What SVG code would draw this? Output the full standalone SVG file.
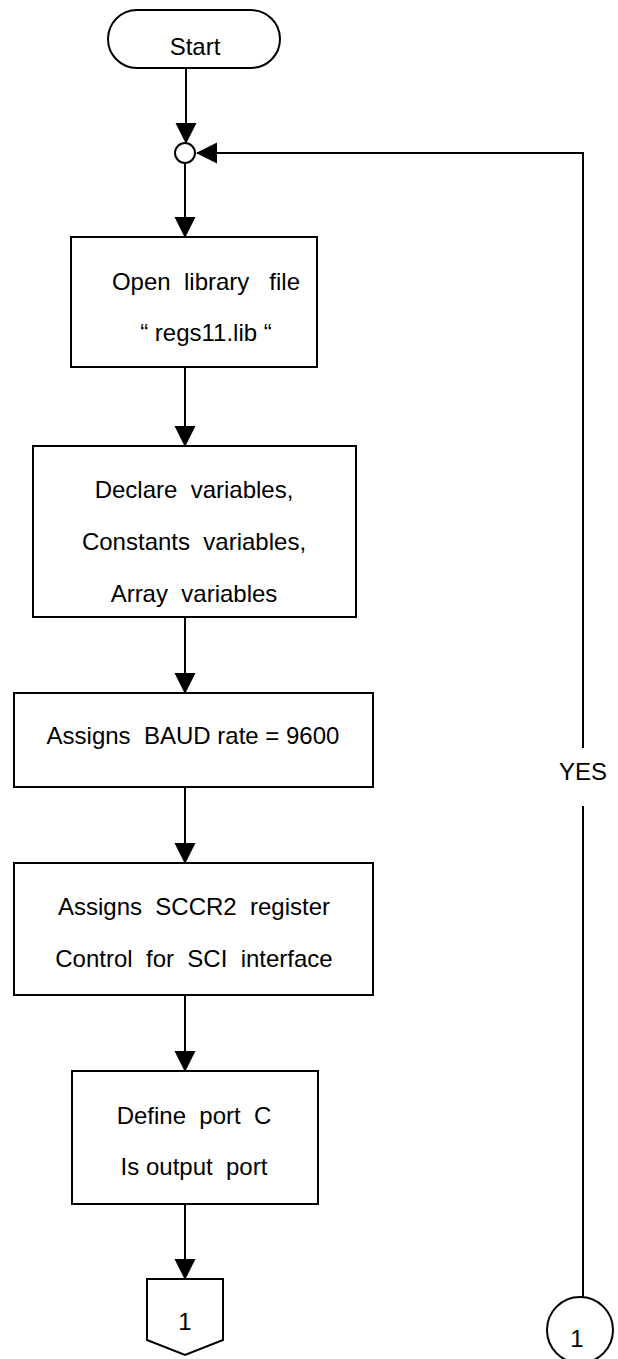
<svg xmlns="http://www.w3.org/2000/svg" width="618" height="1359" viewBox="0 0 618 1359">
<style>
.shape{fill:#fff;stroke:#000;stroke-width:2}
.conn{fill:none;stroke:#000;stroke-width:2}
text{font-family:"Liberation Sans",Arial,sans-serif;font-size:24px;fill:#000;text-anchor:middle;white-space:pre}
</style>
<defs>
<marker id="arr" markerUnits="userSpaceOnUse" markerWidth="22" markerHeight="22" refX="20" refY="10.5" orient="auto" viewBox="0 0 22 22">
<path d="M0,0 L21,10.5 L0,21 Z" fill="#000"/>
</marker>
</defs>
<g id="connectors">
<path class="conn" d="M186,68 V143" marker-end="url(#arr)"/>
<path class="conn" d="M185,163 V237" marker-end="url(#arr)"/>
<path class="conn" d="M185,367 V446" marker-end="url(#arr)"/>
<path class="conn" d="M185,617 V693" marker-end="url(#arr)"/>
<path class="conn" d="M185,787 V863" marker-end="url(#arr)"/>
<path class="conn" d="M185,995 V1071" marker-end="url(#arr)"/>
<path class="conn" d="M185,1204 V1279" marker-end="url(#arr)"/>
<path class="conn" d="M583,1297 V806"/>
<path class="conn" d="M583,748 V153 H197" marker-end="url(#arr)"/>
<text x="583" y="780">YES</text>
</g>
<g id="start">
<rect class="shape" x="108" y="10" width="172" height="58" rx="29" ry="29"/>
<text x="195" y="55">Start</text>
</g>
<g id="junction">
<circle class="shape" cx="185" cy="153" r="10"/>
</g>
<g id="open-library">
<rect class="shape" x="71" y="237" width="246" height="130"/>
<text x="206" y="290">Open  library   file</text>
<text x="206" y="341">“ regs11.lib “</text>
</g>
<g id="declare">
<rect class="shape" x="33" y="446" width="323" height="171"/>
<text x="194" y="498">Declare  variables,</text>
<text x="194" y="550">Constants  variables,</text>
<text x="194" y="602">Array  variables</text>
</g>
<g id="baud">
<rect class="shape" x="14" y="693" width="359" height="94"/>
<text x="193" y="744">Assigns  BAUD rate = 9600</text>
</g>
<g id="sccr2">
<rect class="shape" x="14" y="863" width="359" height="132"/>
<text x="194" y="915">Assigns  SCCR2  register</text>
<text x="194" y="967">Control  for  SCI  interface</text>
</g>
<g id="portc">
<rect class="shape" x="72" y="1071" width="246" height="133"/>
<text x="194" y="1124">Define  port  C</text>
<text x="194" y="1175">Is output  port</text>
</g>
<g id="offpage-1">
<polygon class="shape" points="147,1279 223,1279 223,1340 185,1355 147,1340"/>
<text x="185" y="1330">1</text>
</g>
<g id="connector-1">
<circle class="shape" cx="580" cy="1330" r="33"/>
<text x="577" y="1347">1</text>
</g>
</svg>
